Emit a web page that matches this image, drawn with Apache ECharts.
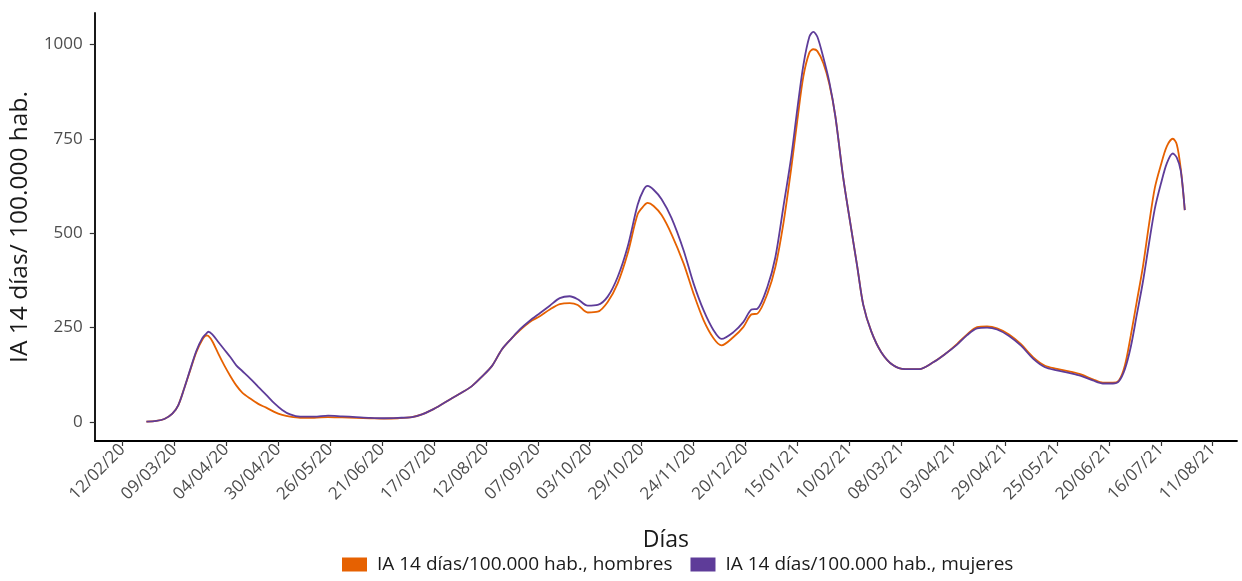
<!DOCTYPE html>
<html>
<head>
<meta charset="utf-8">
<script src="https://cdn.jsdelivr.net/npm/echarts@6/dist/echarts.min.js"></script>
<style>
  html, body { margin: 0; padding: 0; background: #fff; }
  #chart { width: 1242px; height: 581px; }
</style>
</head>
<body>
<div id="chart"></div>
<script>
// ---- Data ----
const dates = [
  '2020-02-24','2020-02-29','2020-03-04','2020-03-08','2020-03-11','2020-03-14','2020-03-17','2020-03-20',
  '2020-03-23','2020-03-25','2020-03-26','2020-03-28','2020-03-31','2020-04-03','2020-04-06','2020-04-09',
  '2020-04-12','2020-04-16','2020-04-20','2020-04-24','2020-04-28','2020-05-02','2020-05-06','2020-05-11',
  '2020-05-18','2020-05-25','2020-06-01','2020-06-08','2020-06-15','2020-06-22','2020-06-29','2020-07-06',
  '2020-07-11','2020-07-16','2020-07-21','2020-07-26','2020-07-31','2020-08-05','2020-08-10','2020-08-15',
  '2020-08-20','2020-08-25','2020-08-29','2020-09-03','2020-09-08','2020-09-13','2020-09-18','2020-09-23',
  '2020-09-27','2020-10-02','2020-10-07','2020-10-12','2020-10-17','2020-10-22','2020-10-27','2020-10-30',
  '2020-11-01','2020-11-04','2020-11-08','2020-11-13','2020-11-19','2020-11-24','2020-11-29','2020-12-04',
  '2020-12-08','2020-12-14','2020-12-19','2020-12-23','2020-12-26','2020-12-31','2021-01-04','2021-01-08',
  '2021-01-12','2021-01-15','2021-01-18','2021-01-21','2021-01-23','2021-01-25','2021-01-28','2021-01-31',
  '2021-02-03','2021-02-07','2021-02-11','2021-02-14','2021-02-17','2021-02-21','2021-02-26','2021-03-04',
  '2021-03-10','2021-03-17','2021-03-24','2021-03-30','2021-04-05','2021-04-10','2021-04-15','2021-04-20',
  '2021-04-25','2021-05-01','2021-05-07','2021-05-13','2021-05-19','2021-05-25','2021-05-31','2021-06-06',
  '2021-06-12','2021-06-17','2021-06-22','2021-06-25','2021-06-28','2021-07-01','2021-07-04','2021-07-07',
  '2021-07-10','2021-07-13','2021-07-16','2021-07-19','2021-07-22','2021-07-24','2021-07-26','2021-07-28'
];
const hombres = [
  1,3,8,22,45,90,138,185,
  218,229,228,214,181,150,122,97,
  78,62,48,38,27,19,14,11,
  11,13,12,11,10,9,10,13,
  20,32,47,63,78,95,120,148,
  192,222,243,265,280,298,312,315,
  310,290,292,318,367,446,550,572,
  580,572,548,497,420,340,270,222,
  203,225,252,285,287,340,411,526,
  675,800,915,978,987,982,950,895,
  810,645,510,411,310,240,185,150,
  140,140,158,180,207,232,251,253,
  248,232,206,172,149,141,134,126,
  113,104,104,110,150,230,320,410,
  520,620,680,730,750,735,670,561
];
const mujeres = [
  1,3,8,22,45,90,140,188,
  222,234,239,232,212,192,172,150,
  135,115,93,72,50,32,20,14,
  14,17,15,13,11,10,11,13,
  20,32,47,63,78,95,120,148,
  192,222,245,268,288,308,328,333,
  325,308,310,332,384,464,575,615,
  625,615,590,540,455,367,296,243,
  220,238,265,298,300,358,437,570,
  705,830,945,1020,1033,1020,965,900,
  810,645,510,411,310,240,185,150,
  140,140,158,180,205,230,248,250,
  245,228,202,168,145,137,130,122,
  110,102,102,108,140,200,285,370,
  470,565,630,685,711,700,665,561
];
const tickDates = [
  '2020-02-12','2020-03-09','2020-04-04','2020-04-30','2020-05-26','2020-06-21','2020-07-17','2020-08-12',
  '2020-09-07','2020-10-03','2020-10-29','2020-11-24','2020-12-20','2021-01-15','2021-02-10','2021-03-08',
  '2021-04-03','2021-04-29','2021-05-25','2021-06-20','2021-07-16','2021-08-11'
];
const yTicks = [0, 250, 500, 750, 1000];
const seriesNames = ['IA 14 días/100.000 hab., hombres', 'IA 14 días/100.000 hab., mujeres'];

// ---- Helpers ----
const DAY = 86400000;
function ts(s) { const p = s.split('-').map(Number); return Date.UTC(p[0], p[1] - 1, p[2]); }
function fmt(v) {
  const d = new Date(v);
  const dd = String(d.getUTCDate()).padStart(2, '0');
  const mm = String(d.getUTCMonth() + 1).padStart(2, '0');
  const yy = String(d.getUTCFullYear()).slice(2);
  return dd + '/' + mm + '/' + yy;
}
const tickTs = tickDates.map(ts);
const base = tickTs[0];

const FONT = '"Open Sans", sans-serif';
const chart = echarts.init(document.getElementById('chart'), null, { renderer: 'canvas' });
chart.setOption({
  backgroundColor: '#ffffff',
  animation: false,
  grid: { left: 93, right: 5, top: 13, bottom: 140, containLabel: false },
  legend: {
    bottom: 2,
    left: 337,
    icon: 'rect',
    itemWidth: 25,
    itemHeight: 14,
    itemGap: 18,
    textStyle: { fontFamily: FONT, fontSize: 19, color: '#1a1a1a', padding: [0, 0, 0, 5] },
    data: seriesNames
  },
  xAxis: {
    type: 'value',
    min: base - 13.85 * DAY,
    max: base + 558.15 * DAY,
    name: 'Días',
    nameLocation: 'middle',
    nameGap: 88,
    nameTextStyle: { fontFamily: FONT, fontSize: 23, color: '#1a1a1a' },
    axisLine: { show: true, onZero: false, lineStyle: { color: '#000', width: 1.8 } },
    axisTick: { show: true, length: 5, customValues: tickTs, lineStyle: { color: '#333', width: 1.2 } },
    axisLabel: {
      customValues: tickTs,
      rotate: 45,
      margin: 6,
      fontFamily: FONT,
      fontSize: 17,
      color: '#4d4d4d',
      formatter: fmt
    },
    splitLine: { show: false }
  },
  yAxis: {
    type: 'value',
    min: -50.3,
    max: 1083,
    name: 'IA 14 días/ 100.000 hab.',
    nameLocation: 'middle',
    nameGap: 53,
    nameRotate: 90,
    nameTextStyle: { fontFamily: FONT, fontSize: 24.5, color: '#1a1a1a' },
    axisLine: { show: true, onZero: false, lineStyle: { color: '#000', width: 1.8 } },
    axisTick: { show: true, length: 5, customValues: yTicks, lineStyle: { color: '#333', width: 1.2 } },
    axisLabel: {
      customValues: yTicks,
      margin: 12,
      fontFamily: FONT,
      fontSize: 17,
      color: '#4d4d4d',
      formatter: (v) => String(Math.round(v))
    },
    splitLine: { show: false }
  },
  series: [
    {
      name: seriesNames[0],
      type: 'line',
      smooth: 0.3,
      showSymbol: false,
      color: '#E66101',
      lineStyle: { width: 1.8, color: '#E66101' },
      data: dates.map((d, i) => [ts(d), hombres[i]])
    },
    {
      name: seriesNames[1],
      type: 'line',
      smooth: 0.3,
      showSymbol: false,
      color: '#5E3C99',
      lineStyle: { width: 1.8, color: '#5E3C99' },
      data: dates.map((d, i) => [ts(d), mujeres[i]])
    }
  ]
});
</script>
</body>
</html>
